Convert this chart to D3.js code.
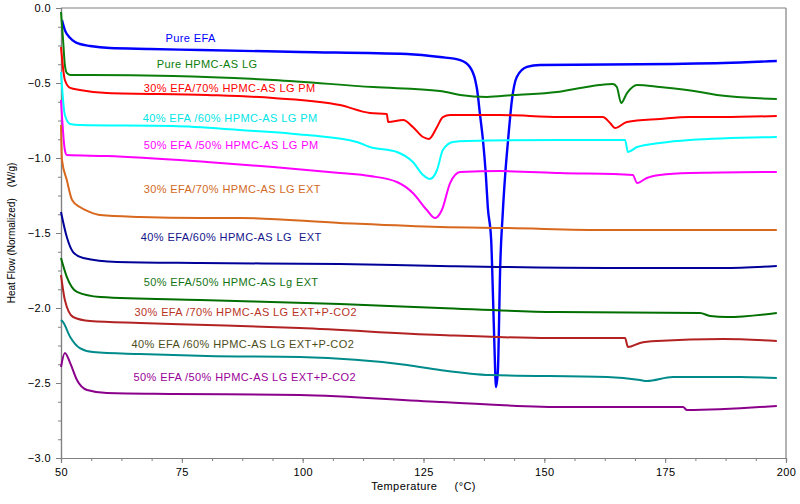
<!DOCTYPE html>
<html><head><meta charset="utf-8">
<script src="https://cdn.jsdelivr.net/npm/d3@7"></script>
<style>
body{margin:0;background:#fff;}
svg text{font-family:"Liberation Sans",Arial,sans-serif;}
</style></head>
<body><svg id="chart" width="800" height="504"></svg>
<script>
// ---- data (temperature °C, heat flow W/g) ----
const pureEFA = [[50.2,-0.08],[50.8,-0.147],[51.9,-0.2],[52.9,-0.227],[53.9,-0.24],[56.0,-0.253],[60.1,-0.267],[68.4,-0.273],[78.8,-0.28],[99.4,-0.293],[121.6,-0.307],[128.4,-0.327],[132.6,-0.347],[134.6,-0.393],[135.7,-0.48],[136.1,-0.547],[136.7,-0.713],[137.3,-0.88],[137.9,-1.113],[138.3,-1.327],[139.0,-1.547],[139.4,-1.947],[139.7,-2.28],[140.0,-2.527],[140.4,-2.413],[140.6,-2.147],[140.8,-1.813],[141.4,-1.367],[141.9,-1.113],[142.5,-0.88],[143.3,-0.613],[144.3,-0.46],[146.4,-0.393],[149.1,-0.38],[176.6,-0.373],[187.0,-0.367],[198.1,-0.353]];
const pureHPMC = [[50.0,-0.027],[50.4,-0.2],[50.8,-0.38],[51.2,-0.433],[51.9,-0.447],[56.0,-0.447],[73.2,-0.453],[93.9,-0.48],[114.6,-0.527],[128.4,-0.553],[132.6,-0.58],[138.1,-0.593],[143.5,-0.58],[152.6,-0.56],[157.4,-0.533],[161.5,-0.513],[164.2,-0.507],[165.0,-0.527],[165.9,-0.633],[167.1,-0.567],[169.2,-0.513],[173.9,-0.527],[182.2,-0.56],[185.7,-0.58],[198.1,-0.607]];
const efa30PM = [[50.0,-0.26],[50.8,-0.48],[51.9,-0.533],[53.9,-0.547],[59.5,-0.567],[80.2,-0.58],[93.9,-0.6],[107.7,-0.647],[113.9,-0.7],[117.4,-0.707],[117.7,-0.76],[120.8,-0.747],[122.8,-0.793],[124.9,-0.86],[126.1,-0.873],[127.8,-0.793],[129.0,-0.727],[130.5,-0.713],[140.8,-0.713],[153.2,-0.727],[162.1,-0.727],[163.6,-0.767],[164.6,-0.8],[167.1,-0.76],[173.9,-0.74],[180.1,-0.727],[187.0,-0.727],[198.1,-0.72]];
const efa40PM = [[50.0,-0.427],[50.8,-0.713],[51.9,-0.773],[53.9,-0.78],[73.2,-0.787],[87.0,-0.813],[100.9,-0.847],[111.2,-0.893],[113.9,-0.927],[119.5,-0.96],[122.8,-1.027],[124.9,-1.113],[126.3,-1.14],[127.8,-1.08],[129.0,-0.947],[131.1,-0.893],[134.0,-0.887],[153.2,-0.88],[166.7,-0.88],[167.3,-0.96],[169.2,-0.927],[173.9,-0.9],[180.1,-0.88],[198.1,-0.86]];
const efa50PM = [[50.0,-0.613],[50.8,-0.947],[51.2,-0.98],[59.5,-0.987],[80.2,-1.027],[93.9,-1.06],[107.7,-1.1],[113.9,-1.12],[119.5,-1.16],[122.8,-1.233],[125.7,-1.347],[127.4,-1.4],[128.8,-1.347],[130.5,-1.167],[132.6,-1.093],[140.8,-1.087],[153.2,-1.1],[168.3,-1.113],[169.2,-1.167],[171.2,-1.133],[173.9,-1.113],[180.1,-1.1],[198.1,-1.093]];
const efa30EXT = [[50.0,-0.78],[50.2,-1.013],[51.2,-1.147],[52.3,-1.28],[53.9,-1.327],[56.0,-1.36],[58.1,-1.38],[66.3,-1.393],[78.8,-1.4],[87.0,-1.4],[107.7,-1.433],[128.4,-1.46],[142.3,-1.467],[163.0,-1.48],[198.1,-1.48]];
const efa40EXT = [[50.0,-1.36],[51.2,-1.527],[52.5,-1.627],[54.6,-1.667],[61.6,-1.693],[78.8,-1.7],[107.7,-1.707],[128.4,-1.72],[163.0,-1.733],[187.0,-1.733],[198.1,-1.72]];
const efa50EXT = [[50.0,-1.667],[51.2,-1.793],[53.3,-1.893],[58.1,-1.927],[78.8,-1.947],[107.7,-1.973],[128.4,-2.0],[152.6,-2.027],[182.2,-2.033],[184.3,-2.053],[187.8,-2.06],[198.1,-2.033]];
const efa30CO2 = [[50.0,-1.78],[50.8,-1.947],[52.5,-2.06],[56.0,-2.087],[66.3,-2.1],[80.2,-2.113],[99.4,-2.133],[128.4,-2.18],[151.2,-2.2],[166.7,-2.2],[167.3,-2.26],[169.8,-2.233],[173.3,-2.22],[187.0,-2.207],[198.1,-2.22]];
const efa40CO2 = [[50.0,-2.08],[50.4,-2.093],[51.9,-2.193],[53.9,-2.267],[56.6,-2.293],[66.3,-2.307],[80.2,-2.32],[99.4,-2.327],[121.6,-2.38],[128.4,-2.413],[138.8,-2.447],[163.0,-2.46],[169.8,-2.48],[171.2,-2.487],[176.6,-2.46],[190.5,-2.46],[198.1,-2.467]];
const efa50CO2 = [[50.0,-2.393],[50.8,-2.3],[51.9,-2.367],[53.3,-2.48],[55.4,-2.547],[59.5,-2.567],[73.2,-2.573],[99.4,-2.58],[128.4,-2.627],[154.7,-2.66],[178.7,-2.66],[179.5,-2.68],[198.1,-2.653]];

const seriesNames = ["Pure EFA","Pure HPMC-AS LG","30% EFA/70% HPMC-AS LG PM","40% EFA /60% HPMC-AS LG PM","50% EFA /50% HPMC-AS LG PM","30% EFA/70% HPMC-AS LG EXT","40% EFA/60% HPMC-AS LG\u00a0 EXT","50% EFA/50% HPMC-AS Lg EXT","30% EFA /70% HPMC-AS LG EXT+P-CO2","40% EFA /60% HPMC-AS LG EXT+P-CO2","50% EFA /50% HPMC-AS LG EXT+P-CO2"];
const seriesData = [pureEFA,pureHPMC,efa30PM,efa40PM,efa50PM,efa30EXT,efa40EXT,efa50EXT,efa30CO2,efa40CO2,efa50CO2];
const lineColors = ["#0000ff","#0a7d0a","#ff0000","#00ffff","#ff00ff","#d8681e","#000099","#006e00","#b22222","#008b8b","#8b008b"];
const labelColors = ["#0000ff","#0a7d0a","#ff0000","#00e5e5","#ff00ff","#d2691e","#14148c","#137313","#b8341f","#4d4d1a","#990099"];
// label anchor positions in data units (temperature, heat flow)
const labelT = [71.6,69.8,67.1,66.9,67.1,67.1,66.5,67.1,65.2,64.6,65.0];
const labelV = [-0.227,-0.40,-0.557,-0.757,-0.94,-1.233,-1.553,-1.853,-2.053,-2.267,-2.487];

const xTicks = [50,75,100,125,150,175,200];
const yTicks = [0,-0.5,-1.0,-1.5,-2.0,-2.5,-3.0];
const xTitle = "Temperature\u00a0\u00a0\u00a0\u00a0\u00a0(°C)";
const yTitle = "Heat Flow (Normalized)\u00a0\u00a0\u00a0\u00a0(W/g)";

// ---- layout ----
const svg = d3.select("#chart");
const L = 61, R = 786, T = 8, B = 458;
const x = d3.scaleLinear().domain([50,200]).range([L,R]);
const y = d3.scaleLinear().domain([-3,0]).range([B,T]);
const axisCol = "#808080";

// frame (top/right)
svg.append("line").attr("x1",L).attr("x2",R).attr("y1",T).attr("y2",T).attr("stroke",axisCol).attr("stroke-width",1.2);
svg.append("line").attr("x1",R).attr("x2",R).attr("y1",T).attr("y2",B).attr("stroke",axisCol).attr("stroke-width",1.2);

function styleAxis(g){
  g.select(".domain").attr("stroke",axisCol).attr("stroke-width",1.2);
  g.selectAll(".tick line").attr("stroke",axisCol);
  g.selectAll("text").attr("fill","#000").style("font-size","11px").style("letter-spacing","0.4px");
}
// minor ticks
const xMinor = d3.range(50,200.01,6.25);
const yMinor = d3.range(-3,0.001,0.125);
svg.append("g").attr("transform",`translate(0,${B})`)
  .call(d3.axisBottom(x).tickValues(xMinor).tickSize(3).tickFormat("")).call(styleAxis);
svg.append("g").attr("transform",`translate(${L},0)`)
  .call(d3.axisLeft(y).tickValues(yMinor).tickSize(3).tickFormat("")).call(styleAxis);
// major ticks
svg.append("g").attr("transform",`translate(0,${B})`)
  .call(d3.axisBottom(x).tickValues(xTicks).tickSize(5).tickPadding(5).tickFormat(d3.format("d"))).call(styleAxis);
svg.append("g").attr("transform",`translate(${L},0)`)
  .call(d3.axisLeft(y).tickValues(yTicks).tickSize(5).tickPadding(5).tickFormat(d3.format(".1f"))).call(styleAxis);

// titles
svg.append("text").attr("x",(L+R)/2).attr("y",490).attr("text-anchor","middle")
  .style("font-size","11px").style("letter-spacing","0.4px").text(xTitle);
svg.append("text").attr("transform",`translate(15,${(T+B)/2}) rotate(-90)`).attr("text-anchor","middle")
  .style("font-size","10px").text(yTitle);

// curves
const line = d3.line().x(d=>x(d[0])).y(d=>y(d[1])).curve(d3.curveMonotoneX);
const plot = svg.append("g");
seriesData.forEach((s,i)=>{
  plot.append("path").datum(s).attr("d",line).attr("fill","none")
    .attr("stroke",lineColors[i]).attr("stroke-width",i===0?2.4:2).attr("stroke-linejoin","round");
});
// labels
seriesNames.forEach((n,i)=>{
  svg.append("text").attr("x",x(labelT[i])).attr("y",y(labelV[i]))
    .attr("fill",labelColors[i]).style("font-size","11px").style("letter-spacing","0.4px").text(n);
});
</script></body></html>
